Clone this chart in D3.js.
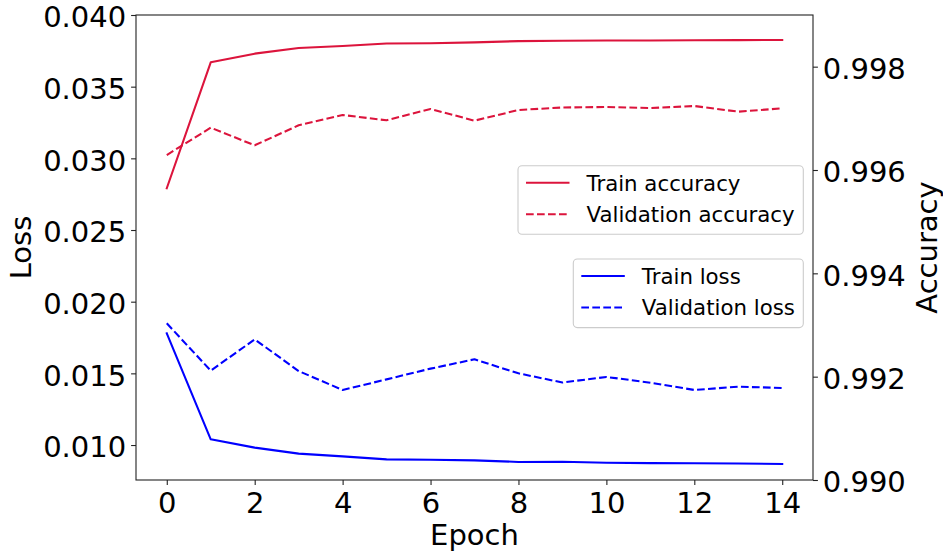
<!DOCTYPE html>
<html>
<head>
<meta charset="utf-8">
<script src="https://cdn.jsdelivr.net/npm/d3@7"></script>
<style>
  html, body { margin: 0; padding: 0; background: #fff; }
  svg { display: block; font-family: "DejaVu Sans", sans-serif; }
</style>
</head>
<body>
<svg id="chart" width="943" height="557"></svg>
<script>
const epochs = [0,1,2,3,4,5,6,7,8,9,10,11,12,13,14];
const trainLoss = [0.01779,0.01040,0.00982,0.00940,0.00921,0.00900,0.00897,0.00893,0.00882,0.00883,0.00876,0.00874,0.00873,0.00871,0.00868];
const valLoss = [0.01849,0.01519,0.01737,0.01516,0.01384,0.01458,0.01533,0.01598,0.01500,0.01436,0.01475,0.01435,0.01384,0.01407,0.01398];
const trainAcc = [0.995646,0.998084,0.998252,0.998362,0.998400,0.998449,0.998452,0.998470,0.998495,0.998500,0.998505,0.998508,0.998510,0.998514,0.998516];
const valAcc = [0.996290,0.996819,0.996478,0.996865,0.997065,0.996962,0.997181,0.996955,0.997161,0.997210,0.997219,0.997200,0.997239,0.997129,0.997194];
const xTicks = [0,2,4,6,8,10,12,14];
const lossTicks = [0.010,0.015,0.020,0.025,0.030,0.035,0.040];
const accTicks = [0.990,0.992,0.994,0.996,0.998];

const L = 136, R = 813, T = 15, B = 480;
const svg = d3.select("#chart");
const x = d3.scaleLinear().domain([-0.7, 14.7]).range([L, R]);
const yL = d3.scaleLinear().domain([0.00756, 0.040]).range([B, T]);
const yR = d3.scaleLinear().domain([0.990, 0.999]).range([B, T]);

const RED = "#DC143C", BLUE = "#0000FF";
const LW = 2.08, DASH = "7.7,3.3";
const TF = 29;

// Lines
function drawLine(data, yScale, color, dashed) {
  const line = d3.line().x((d,i) => x(epochs[i])).y(d => yScale(d));
  svg.append("path").datum(data).attr("d", line)
    .attr("fill", "none").attr("stroke", color).attr("stroke-width", LW)
    .attr("stroke-linejoin", "round").attr("stroke-linecap", dashed ? "butt" : "square")
    .attr("stroke-dasharray", dashed ? DASH : null);
}
drawLine(trainLoss, yL, BLUE, false);
drawLine(valLoss, yL, BLUE, true);
drawLine(trainAcc, yR, RED, false);
drawLine(valAcc, yR, RED, true);

// Frame
const frame = svg.append("g").attr("stroke", "#222").attr("stroke-width", 1.1).attr("fill", "none");
frame.append("rect").attr("x", L).attr("y", T).attr("width", R - L).attr("height", B - T);

// Axes
const xAxis = svg.append("g").attr("transform", `translate(0,${B})`)
  .call(d3.axisBottom(x).tickValues(xTicks).tickSize(4.9).tickPadding(6).tickFormat(d3.format("d")));
const yAxisL = svg.append("g").attr("transform", `translate(${L},0)`)
  .call(d3.axisLeft(yL).tickValues(lossTicks).tickSize(4.9).tickPadding(4.9).tickFormat(d3.format(".3f")));
const yAxisR = svg.append("g").attr("transform", `translate(${R},0)`)
  .call(d3.axisRight(yR).tickValues(accTicks).tickSize(4.9).tickPadding(4.9).tickFormat(d3.format(".3f")));
[xAxis, yAxisL, yAxisR].forEach(g => {
  g.select(".domain").remove();
  g.selectAll(".tick line").attr("stroke", "#222").attr("stroke-width", 1.1);
  g.selectAll(".tick text").attr("fill", "#000").style("font-size", TF + "px")
    .style("font-family", "DejaVu Sans");
});
xAxis.selectAll(".tick text").attr("dy", null).attr("y", 33);
yAxisL.selectAll(".tick text").attr("dy", "11.8px");
yAxisR.selectAll(".tick text").attr("dy", "11.8px");

// Axis labels
svg.append("text").attr("x", (L + R) / 2).attr("y", 545).attr("text-anchor", "middle")
  .style("font-size", TF + "px").text("Epoch");
svg.append("text").attr("transform", `translate(31,${(T + B) / 2}) rotate(-90)`)
  .attr("text-anchor", "middle").style("font-size", TF + "px").text("Loss");
svg.append("text").attr("transform", `translate(937,${(T + B) / 2}) rotate(-90)`)
  .attr("text-anchor", "middle").style("font-size", TF + "px").text("Accuracy");

// Legends
const LF = 21.3;
function legend(x0, y0, w, h, items) {
  const g = svg.append("g");
  g.append("rect").attr("x", x0).attr("y", y0).attr("width", w).attr("height", h)
    .attr("rx", 4).attr("ry", 4).attr("fill", "#fff").attr("fill-opacity", 0.8)
    .attr("stroke", "#cccccc").attr("stroke-width", 1.1);
  items.forEach((it, i) => {
    const cy = y0 + 17 + i * 31.5;
    g.append("line").attr("x1", x0 + 8).attr("x2", x0 + 51.5).attr("y1", cy).attr("y2", cy)
      .attr("stroke", it.color).attr("stroke-width", LW)
      .attr("stroke-dasharray", it.dashed ? DASH : null);
    g.append("text").attr("x", x0 + 68.5).attr("y", cy + 7.8)
      .style("font-size", LF + "px").attr("fill", "#000").text(it.label);
  });
}
legend(518, 165.7, 285.3, 68.6, [
  {label: "Train accuracy", color: RED, dashed: false},
  {label: "Validation accuracy", color: RED, dashed: true}
]);
legend(573.3, 259, 230, 68.6, [
  {label: "Train loss", color: BLUE, dashed: false},
  {label: "Validation loss", color: BLUE, dashed: true}
]);
</script>
</body>
</html>
